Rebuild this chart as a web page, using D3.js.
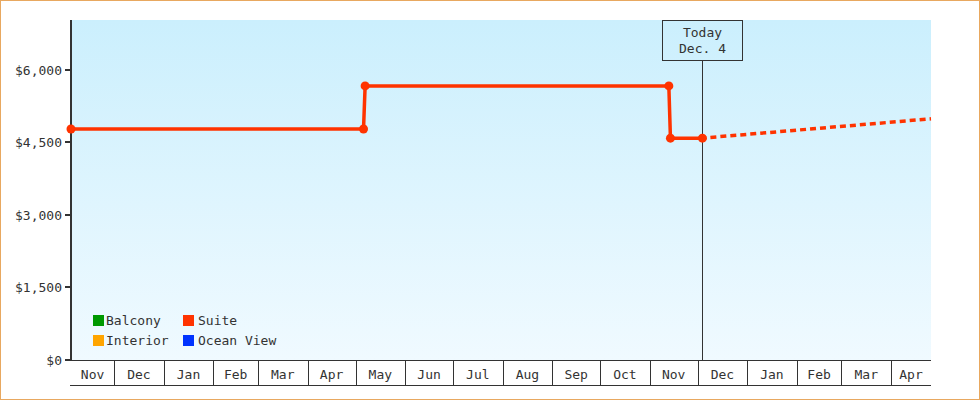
<!DOCTYPE html>
<html><head><meta charset="utf-8">
<script src="https://cdn.jsdelivr.net/npm/d3@7"></script>
<style>
html,body{margin:0;padding:0;background:#fff;}
svg text{font-family:"DejaVu Sans Mono",monospace;font-size:13px;fill:#333;}
</style></head>
<body><svg id="c" width="980" height="400"></svg>
<script>
// ---- data ----
const suiteDates  = ["2012-11-04","2013-05-06","2013-05-07","2013-11-13","2013-11-14","2013-12-04"];
const suiteValues = [4780, 4780, 5670, 5670, 4590, 4590];
const forecastDates  = ["2013-12-04","2014-04-26"];
const forecastValues = [4590, 4990];
const yTicks = [0, 1500, 3000, 4500, 6000];
const legendNames  = ["Balcony","Suite","Interior","Ocean View"];
const legendColors = ["#009900","#ff3300","#ffa500","#0033ff"];
const todayDate = "2013-12-04";
const todayLabel = ["Today","Dec. 4"];
const startDate = "2012-11-04", endDate = "2014-04-26";
const yMax = 7034;

const svg = d3.select("#c");
const L = 71, R = 931, T = 20, B = 360;
const parse = d3.utcParse("%Y-%m-%d");
const x = d3.scaleUtc().domain([parse(startDate), parse(endDate)]).range([L, R]);
const y = d3.scaleLinear().domain([0, yMax]).range([B, T]);

// border
svg.append("rect").attr("x",0.5).attr("y",0.5).attr("width",979).attr("height",399)
  .attr("fill","#fff").attr("stroke","#e8a860");

// gradient
const defs = svg.append("defs");
const g = defs.append("linearGradient").attr("id","bg").attr("x1",0).attr("x2",0).attr("y1",0).attr("y2",1);
g.append("stop").attr("offset","0%").attr("stop-color","#cbeffd");
g.append("stop").attr("offset","100%").attr("stop-color","#f0faff");
svg.append("rect").attr("x",L).attr("y",T).attr("width",R-L).attr("height",B-T).attr("fill","url(#bg)");

// y axis
svg.append("line").attr("x1",L).attr("x2",L).attr("y1",T).attr("y2",B+1)
  .attr("stroke","#333").attr("stroke-width",2);
const fmt = d3.format(",");
yTicks.forEach(v=>{
  const yy = Math.round(y(v));
  svg.append("line").attr("x1",L-6).attr("x2",L).attr("y1",yy).attr("y2",yy)
    .attr("stroke","#333").attr("stroke-width",2);
  svg.append("text").attr("x",L-9).attr("y",yy+5).attr("text-anchor","end").text("$"+fmt(v));
});

// x axis month boxes
const months = d3.utcMonth.range(d3.utcMonth.ceil(parse(startDate)), parse(endDate));
const bounds = [parse(startDate), ...months, parse(endDate)];
const mfmt = d3.utcFormat("%b");
svg.append("line").attr("x1",L-1).attr("x2",R).attr("y1",B+0.5).attr("y2",B+0.5).attr("stroke","#333");
svg.append("line").attr("x1",L-1).attr("x2",R).attr("y1",385.5).attr("y2",385.5).attr("stroke","#333");
months.forEach(m=>{
  const xx = Math.round(x(m))+0.5;
  svg.append("line").attr("x1",xx).attr("x2",xx).attr("y1",B).attr("y2",385).attr("stroke","#333");
});
for(let i=0;i<bounds.length-1;i++){
  const cx = (x(bounds[i])+x(bounds[i+1]))/2;
  svg.append("text").attr("x",cx).attr("y",379).attr("text-anchor","middle").text(mfmt(d3.utcMonth.floor(bounds[i])));
}

// today marker
const tx = Math.round(x(parse(todayDate)))+0.5;
svg.append("line").attr("x1",tx).attr("x2",tx).attr("y1",60).attr("y2",B).attr("stroke","#333");
svg.append("rect").attr("x",tx-40).attr("y",20.5).attr("width",80).attr("height",40)
  .attr("fill","none").attr("stroke","#333");
svg.append("text").attr("x",tx).attr("y",37).attr("text-anchor","middle").text(todayLabel[0]);
svg.append("text").attr("x",tx).attr("y",53).attr("text-anchor","middle").text(todayLabel[1]);

// suite line
const pts = suiteDates.map((d,i)=>[parse(d), suiteValues[i]]);
const line = d3.line().x(d=>x(d[0])).y(d=>y(d[1]));
svg.append("path").attr("d",line(pts)).attr("fill","none").attr("stroke","#ff3300").attr("stroke-width",3.5);
const fpts = forecastDates.map((d,i)=>[parse(d), forecastValues[i]]);
svg.append("path").attr("d",line(fpts)).attr("fill","none").attr("stroke","#ff3300")
  .attr("stroke-width",3.5).attr("stroke-dasharray","6,4").attr("stroke-dashoffset",-8);
svg.selectAll("circle.pt").data(pts).enter().append("circle")
  .attr("cx",d=>x(d[0])).attr("cy",d=>y(d[1])).attr("r",4.5).attr("fill","#ff3300");

// legend
legendNames.forEach((n,i)=>{
  const col = i%2, row = Math.floor(i/2);
  const lx = 93 + col*90, ly = 315 + row*20;
  svg.append("rect").attr("x",lx).attr("y",ly).attr("width",11).attr("height",11).attr("fill",legendColors[i]);
  svg.append("text").attr("x",lx+13+col*2).attr("y",ly+10).text(n);
});
</script></body></html>
